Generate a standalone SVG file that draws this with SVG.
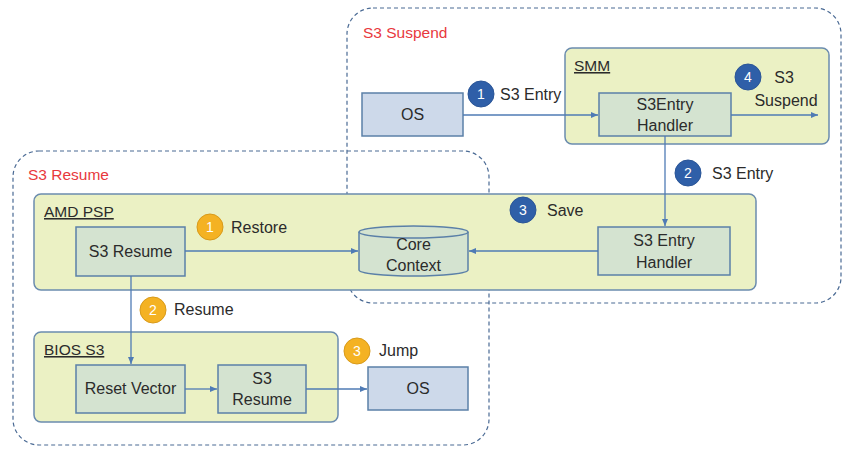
<svg xmlns="http://www.w3.org/2000/svg" width="855" height="457" viewBox="0 0 855 457">
<defs>
<style>
text{font-family:"Liberation Sans","Noto Sans",Arial,sans-serif;fill:#2b2b2b;font-size:16px}
.grp{fill:none;stroke:#4a6a94;stroke-width:1.2;stroke-dasharray:4 3}
.zone{fill:#ebf1c4;stroke:#6b8cae;stroke-width:1.5}
.blk{fill:#d4e3d0;stroke:#5b80a8;stroke-width:1.5}
.os{fill:#cdd9ea;stroke:#5b80a8;stroke-width:1.5}
.red{fill:#e8383d;font-size:15.5px}
.lbl{text-decoration:underline;font-size:15.5px}
.c{text-anchor:middle}
.bb{fill:#2f5fa8;stroke:#2a5597;stroke-width:1}
.ob{fill:#f4b223;stroke:#d89a1a;stroke-width:1}
.bt{fill:#fff;font-size:14px;text-anchor:middle}
.ln{fill:none;stroke:#4f7bb5;stroke-width:1.3;marker-end:url(#ah)}
</style>
<marker id="ah" markerWidth="8" markerHeight="8" refX="7" refY="4" orient="auto" markerUnits="userSpaceOnUse">
<path d="M0,1 L7,4 L0,7 z" fill="#4f7bb5"/>
</marker>
</defs>
<rect width="855" height="457" fill="#fff"/>

<g id="s3suspend-group">
<rect class="grp" x="347" y="8" width="494" height="295" rx="26"/>
<text class="red" x="363" y="38">S3 Suspend</text>
</g>
<g id="s3resume-group">
<rect class="grp" x="13" y="151" width="476" height="294" rx="26"/>
<text class="red" x="28" y="180">S3 Resume</text>
</g>

<g id="smm">
<rect class="zone" x="565" y="48" width="264" height="96" rx="7"/>
<text class="lbl" x="574" y="71">SMM</text>
</g>
<g id="amdpsp">
<rect class="zone" x="34" y="194" width="722" height="96" rx="7"/>
<text class="lbl" x="44" y="217">AMD PSP</text>
</g>
<g id="bioss3">
<rect class="zone" x="34" y="332" width="304" height="90" rx="7"/>
<text class="lbl" x="44" y="355">BIOS S3</text>
</g>

<g id="os-top">
<rect class="os" x="362" y="93" width="101" height="43"/>
<text class="c" x="412.5" y="120">OS</text>
</g>
<g id="s3entry-handler-smm">
<rect class="blk" x="599" y="93" width="132" height="43"/>
<text class="c" x="665" y="110">S3Entry</text>
<text class="c" x="665" y="131">Handler</text>
</g>
<g id="s3-resume-psp">
<rect class="blk" x="76" y="227" width="109" height="49"/>
<text class="c" x="130.5" y="257">S3 Resume</text>
</g>
<g id="core-context">
<path d="M359,232 L359,270 A54.5,6 0 0 0 468,270 L468,232" fill="#d4e3d0" stroke="#5b80a8" stroke-width="1.5"/>
<ellipse cx="413.5" cy="232" rx="54.5" ry="6" fill="#d4e3d0" stroke="#5b80a8" stroke-width="1.5"/>
<text class="c" x="413.5" y="250">Core</text>
<text class="c" x="413.5" y="271">Context</text>
</g>
<g id="s3entry-handler-psp">
<rect class="blk" x="598" y="227" width="132" height="48"/>
<text class="c" x="664" y="246">S3 Entry</text>
<text class="c" x="664" y="268">Handler</text>
</g>
<g id="reset-vector">
<rect class="blk" x="76" y="365" width="109" height="48"/>
<text class="c" x="130.5" y="394">Reset Vector</text>
</g>
<g id="s3-resume-bios">
<rect class="blk" x="218" y="365" width="88" height="48"/>
<text class="c" x="262" y="384">S3</text>
<text class="c" x="262" y="405">Resume</text>
</g>
<g id="os-bottom">
<rect class="os" x="368" y="367" width="100" height="43"/>
<text class="c" x="418" y="394">OS</text>
</g>

<g id="connectors">
<line class="ln" x1="463" y1="115" x2="598" y2="115"/>
<line class="ln" x1="731" y1="115" x2="818" y2="115"/>
<line class="ln" x1="665" y1="136" x2="665" y2="226"/>
<line class="ln" x1="598" y1="251" x2="469" y2="251"/>
<line class="ln" x1="185" y1="251" x2="358" y2="251"/>
<line class="ln" x1="131" y1="276" x2="131" y2="364"/>
<line class="ln" x1="185" y1="389" x2="217" y2="389"/>
<line class="ln" x1="306" y1="389" x2="367" y2="389"/>
</g>

<g id="badges">
<circle class="bb" cx="481" cy="94" r="13"/><text class="bt" x="481" y="99">1</text>
<text x="500" y="100">S3 Entry</text>
<circle class="bb" cx="748" cy="77" r="13"/><text class="bt" x="748" y="82">4</text>
<text class="c" x="784" y="83">S3</text>
<text class="c" x="786" y="106">Suspend</text>
<circle class="bb" cx="688" cy="173" r="13"/><text class="bt" x="688" y="178">2</text>
<text x="712" y="179">S3 Entry</text>
<circle class="bb" cx="523" cy="210" r="13"/><text class="bt" x="523" y="215">3</text>
<text x="547" y="216">Save</text>
<circle class="ob" cx="210" cy="227" r="13"/><text class="bt" x="210" y="232">1</text>
<text x="231" y="233">Restore</text>
<circle class="ob" cx="153" cy="310" r="13"/><text class="bt" x="153" y="315">2</text>
<text x="174" y="315">Resume</text>
<circle class="ob" cx="357" cy="351" r="13"/><text class="bt" x="357" y="356">3</text>
<text x="379" y="356">Jump</text>
</g>
</svg>
